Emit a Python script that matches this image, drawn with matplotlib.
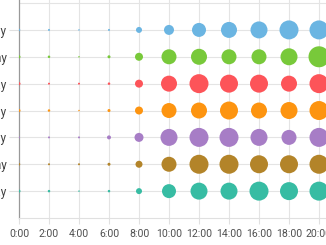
import matplotlib
matplotlib.use('Agg')
import matplotlib.pyplot as plt
import numpy as np

plt.rcParams['font.family'] = ['Roboto', 'DejaVu Sans']

# hours shown on the x axis (every 2 hours)
hours = ['0:00', '2:00', '4:00', '6:00', '8:00', '10:00', '12:00',
         '14:00', '16:00', '18:00', '20:00']
# days, bottom to top
days = ['Sunday', 'Monday', 'Tuesday', 'Wednesday', 'Thursday', 'Friday', 'Saturday']

# activity values per day (bottom to top)
sunday = [3, 2.5, 1.5, 2.5, 6, 14, 17, 17, 19, 18, 19]
monday = [2.5, 2, 2, 3, 7, 15, 19, 19, 18, 18, 19]
tuesday = [2, 2, 2, 4, 9, 17, 19, 19, 17, 15, 19]
wednesday = [3, 2.5, 1.5, 3, 8, 15, 16, 18, 16, 17, 19]
thursday = [3, 2, 2, 2.5, 8, 16, 19, 18, 18, 16, 19]
friday = [3, 2.5, 1.5, 3, 8, 15, 16, 15, 15, 17, 21]
saturday = [2.5, 2, 1.5, 2, 6, 10, 14, 16, 17, 19, 19]

series = [sunday, monday, tuesday, wednesday, thursday, friday, saturday]
colors = ['#37bca3', '#b38429', '#a77dc6', '#fd9410', '#fd5459', '#78c93a', '#6bb5e2']

fig = plt.figure(figsize=(3.26, 2.45), dpi=100)
ax = fig.add_axes([19/326, 27/245, 307/326, 218/245])

x = np.arange(len(hours))
for i, vals in enumerate(series):
    d_pt = np.array(vals) * 0.72
    ax.scatter(x, np.full(len(x), i), s=d_pt**2, color=colors[i],
               linewidths=0, zorder=3)

ax.set_xlim(0, (326 - 19) / 30)
ax.set_ylim(-1, 191 / 26.85)

# grid lines
for i in range(len(days) + 1):
    ax.axhline(i, color='#e4e4e4', lw=0.8, zorder=1)
for xi in x[1:]:
    ax.axvline(xi, color='#e4e4e4', lw=0.8, zorder=1)

ax.set_xticks(x)
ax.set_xticklabels(hours)
ax.set_yticks(np.arange(len(days)))
ax.set_yticklabels(days)
ax.tick_params(axis='x', length=4, color='#e0e0e0', labelsize=7.6, pad=4,
               labelcolor='#505050')
ax.tick_params(axis='y', length=7, color='#e0e0e0', labelsize=8.5, pad=2,
               labelcolor='#404040')

for s in ['top', 'right']:
    ax.spines[s].set_visible(False)
ax.spines['left'].set_color('#999999')
ax.spines['left'].set_linewidth(0.9)
ax.spines['bottom'].set_color('#e0e0e0')
ax.spines['bottom'].set_linewidth(0.8)
ax.set_axisbelow(True)

fig.savefig('out.png', dpi=100)
